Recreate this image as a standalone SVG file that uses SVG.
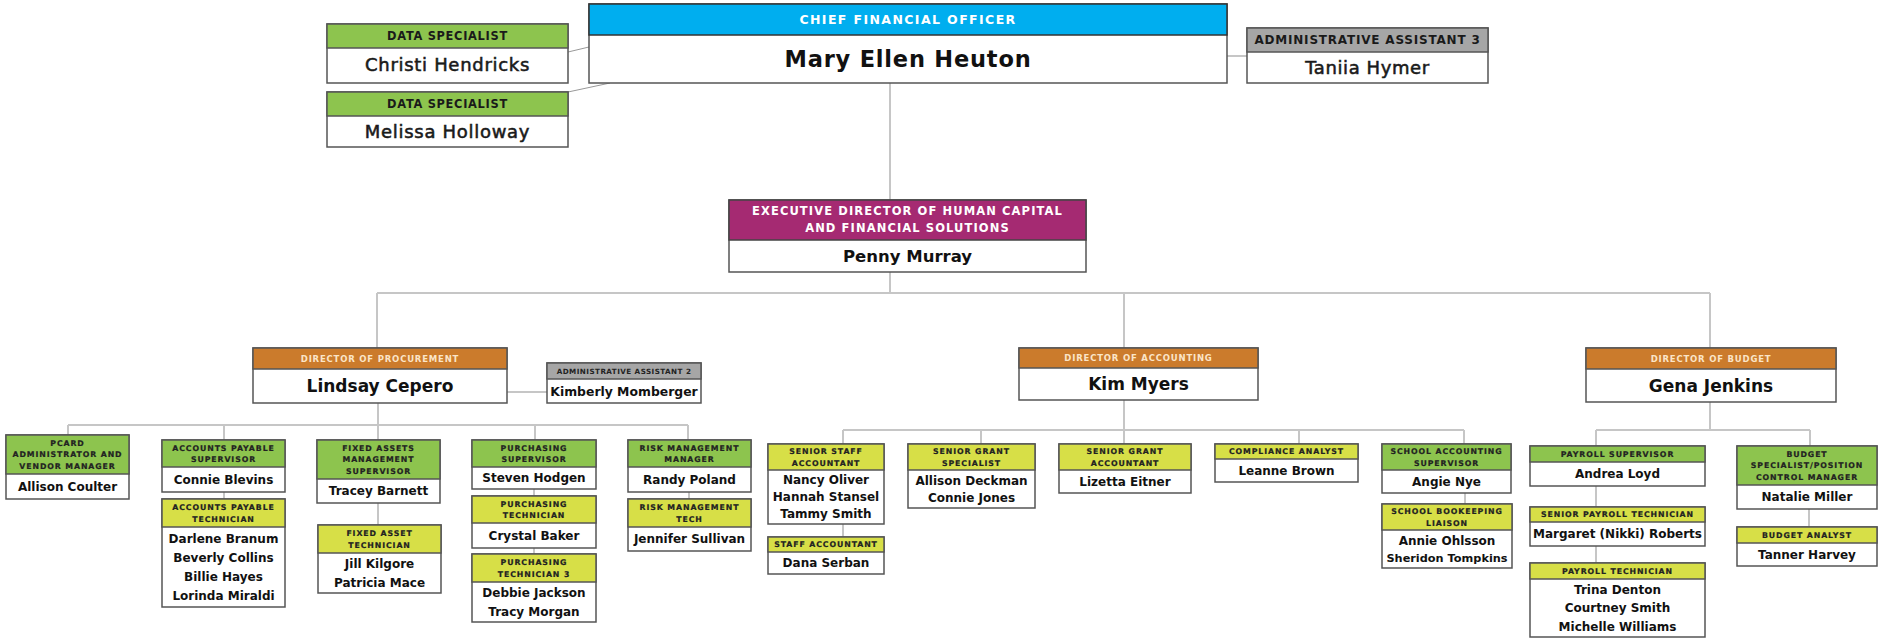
<svg xmlns="http://www.w3.org/2000/svg" width="1879" height="638" viewBox="0 0 1879 638">
<style>
text{font-family:"DejaVu Sans","Liberation Sans",sans-serif;text-anchor:middle}
.bx{fill:#fff;stroke:#555;stroke-width:1.5}
.bl{fill:#00AEEF;stroke:#333;stroke-width:1.5}
.gn{fill:#8DC44E;stroke:#555;stroke-width:1.5}
.yl{fill:#D7DF47;stroke:#555;stroke-width:1.5}
.gy{fill:#A6A6A6;stroke:#555;stroke-width:1.5}
.or{fill:#CB7B2C;stroke:#555;stroke-width:1.5}
.mg{fill:#A52A72;stroke:#444;stroke-width:1.5}
.s{font-size:7.8px;font-weight:bold;letter-spacing:0.9px;fill:#222;stroke:#222;stroke-width:0.2}
.n{font-size:12px;font-weight:bold;fill:#111}
.dh{font-size:8.5px;font-weight:bold;letter-spacing:0.8px;fill:#FBE5C8}
.dn{font-size:17px;font-weight:bold;fill:#111}
.th{font-size:11.4px;font-weight:bold;letter-spacing:0.7px;fill:#1a1a1a}
.tn{font-size:18px;letter-spacing:0.7px;fill:#1a1a1a;stroke:#1a1a1a;stroke-width:0.55}
.conn line,.conn path{stroke:#C6C6C6;stroke-width:2;fill:none}
</style>
<g id="connectors" class="conn">
<path d="M568,52 L589,47" style="stroke:#999;stroke-width:1"/>
<path d="M568,92 L610,83" style="stroke:#999;stroke-width:1"/>
<path d="M1227,56 H1247"/>
<path d="M890,83 V200"/>
<path d="M890,272 V293"/>
<path d="M377,293 H1710"/>
<path d="M377,293 V348"/>
<path d="M1124,293 V348"/>
<path d="M1710,293 V348"/>
<path d="M507,392 H547"/>
<path d="M378,403 V425"/>
<path d="M68,425 H688"/>
<path d="M68,425 V435"/>
<path d="M224,425 V440"/>
<path d="M378,425 V440"/>
<path d="M535,425 V440"/>
<path d="M688,425 V440"/>
<path d="M224,492 V499"/>
<path d="M378,503 V525"/>
<path d="M534,489 V496"/>
<path d="M534,548 V554"/>
<path d="M689,492 V499"/>
<path d="M1124,400 V430"/>
<path d="M843,430 H1464"/>
<path d="M843,430 V444"/>
<path d="M981,430 V444"/>
<path d="M1124,430 V444"/>
<path d="M1299,430 V444"/>
<path d="M1464,430 V444"/>
<path d="M843,524 V537"/>
<path d="M1465,493 V504"/>
<path d="M1710,402 V430"/>
<path d="M1596,430 H1810"/>
<path d="M1596,430 V446"/>
<path d="M1810,430 V446"/>
<path d="M1596,486 V507"/>
<path d="M1596,546 V563"/>
<path d="M1809,509 V527"/>
</g>

<g id="cfo">
<rect class="bx" x="589" y="4" width="638" height="79"/>
<rect class="bl" x="589" y="4" width="638" height="31"/>
<text x="908" y="24" style="font-size:12.5px;font-weight:bold;letter-spacing:1.4px;fill:#fff">CHIEF FINANCIAL OFFICER</text>
<text x="908" y="67" style="font-size:22.5px;font-weight:bold;letter-spacing:0.8px;fill:#111">Mary Ellen Heuton</text>
</g>
<g id="data-specialist-1">
<rect class="bx" x="327" y="24" width="241" height="59"/>
<rect class="gn" x="327" y="24" width="241" height="24"/>
<text class="th" x="447.5" y="40">DATA SPECIALIST</text>
<text class="tn" x="447.5" y="71">Christi Hendricks</text>
</g>
<g id="data-specialist-2">
<rect class="bx" x="327" y="92" width="241" height="55"/>
<rect class="gn" x="327" y="92" width="241" height="24"/>
<text class="th" x="447.5" y="108">DATA SPECIALIST</text>
<text class="tn" x="447.5" y="137.5">Melissa Holloway</text>
</g>
<g id="admin-assistant-3">
<rect class="bx" x="1247" y="28" width="241" height="55"/>
<rect class="gy" x="1247" y="28" width="241" height="24"/>
<text x="1367.5" y="44.3" style="font-size:12px;font-weight:bold;letter-spacing:0.8px;fill:#1a1a1a">ADMINISTRATIVE ASSISTANT 3</text>
<text class="tn" x="1367.5" y="73.5" style="letter-spacing:0.6px">Taniia Hymer</text>
</g>
<g id="exec-director">
<rect class="bx" x="729" y="200" width="357" height="72"/>
<rect class="mg" x="729" y="200" width="357" height="40"/>
<text x="907.5" y="215" style="font-size:11.5px;font-weight:bold;letter-spacing:1.1px;fill:#fff">EXECUTIVE DIRECTOR OF HUMAN CAPITAL</text>
<text x="907.5" y="232" style="font-size:11.5px;font-weight:bold;letter-spacing:1.1px;fill:#fff">AND FINANCIAL SOLUTIONS</text>
<text x="907.5" y="262" style="font-size:16.5px;font-weight:bold;fill:#111">Penny Murray</text>
</g>

<g id="dir-procurement">
<rect class="bx" x="253" y="348" width="254" height="55"/>
<rect class="or" x="253" y="348" width="254" height="21"/>
<text class="dh" x="380" y="361.6">DIRECTOR OF PROCUREMENT</text>
<text class="dn" x="380" y="392">Lindsay Cepero</text>
</g>
<g id="admin-assistant-2">
<rect class="bx" x="547" y="363" width="154" height="40"/>
<rect class="gy" x="547" y="363" width="154" height="16"/>
<text x="624" y="373.8" style="font-size:7.2px;font-weight:bold;letter-spacing:0.45px;fill:#222">ADMINISTRATIVE ASSISTANT 2</text>
<text x="624" y="395.5" style="font-size:12.4px;font-weight:bold;fill:#111">Kimberly Momberger</text>
</g>
<g id="dir-accounting">
<rect class="bx" x="1019" y="348" width="239" height="52"/>
<rect class="or" x="1019" y="348" width="239" height="20"/>
<text class="dh" x="1138.5" y="361">DIRECTOR OF ACCOUNTING</text>
<text class="dn" x="1138.5" y="390">Kim Myers</text>
</g>
<g id="dir-budget">
<rect class="bx" x="1586" y="348" width="250" height="54"/>
<rect class="or" x="1586" y="348" width="250" height="21"/>
<text class="dh" x="1711" y="361.6">DIRECTOR OF BUDGET</text>
<text class="dn" x="1711" y="392">Gena Jenkins</text>
</g>

<g id="pcard-admin">
<rect class="bx" x="6" y="435" width="123" height="64"/>
<rect class="gn" x="6" y="435" width="123" height="39"/>
<text class="s" x="67.5" y="445.6">PCARD</text>
<text class="s" x="67.5" y="457.4">ADMINISTRATOR AND</text>
<text class="s" x="67.5" y="469.2">VENDOR MANAGER</text>
<text class="n" x="67.5" y="490.9">Allison Coulter</text>
</g>
<g id="ap-supervisor">
<rect class="bx" x="162" y="440" width="123" height="52"/>
<rect class="gn" x="162" y="440" width="123" height="27"/>
<text class="s" x="223.5" y="450.5">ACCOUNTS PAYABLE</text>
<text class="s" x="223.5" y="462.3">SUPERVISOR</text>
<text class="n" x="223.5" y="483.9">Connie Blevins</text>
</g>
<g id="ap-technician">
<rect class="bx" x="162" y="499" width="123" height="108"/>
<rect class="yl" x="162" y="499" width="123" height="28"/>
<text class="s" x="223.5" y="510">ACCOUNTS PAYABLE</text>
<text class="s" x="223.5" y="521.8">TECHNICIAN</text>
<text class="n" x="223.5" y="543.4">Darlene Branum</text>
<text class="n" x="223.5" y="562.1">Beverly Collins</text>
<text class="n" x="223.5" y="580.8">Billie Hayes</text>
<text class="n" x="223.5" y="599.5">Lorinda Miraldi</text>
</g>
<g id="fixed-assets-supervisor">
<rect class="bx" x="317" y="440" width="123" height="63"/>
<rect class="gn" x="317" y="440" width="123" height="39"/>
<text class="s" x="378.5" y="450.6">FIXED ASSETS</text>
<text class="s" x="378.5" y="462.4">MANAGEMENT</text>
<text class="s" x="378.5" y="474.2">SUPERVISOR</text>
<text class="n" x="378.5" y="495.4">Tracey Barnett</text>
</g>
<g id="fixed-asset-technician">
<rect class="bx" x="318" y="525" width="123" height="68"/>
<rect class="yl" x="318" y="525" width="123" height="28"/>
<text class="s" x="379.5" y="536">FIXED ASSET</text>
<text class="s" x="379.5" y="547.8">TECHNICIAN</text>
<text class="n" x="379.5" y="567.9">Jill Kilgore</text>
<text class="n" x="379.5" y="586.9">Patricia Mace</text>
</g>
<g id="purchasing-supervisor">
<rect class="bx" x="472" y="440" width="124" height="49"/>
<rect class="gn" x="472" y="440" width="124" height="27"/>
<text class="s" x="534" y="450.5">PURCHASING</text>
<text class="s" x="534" y="462.3">SUPERVISOR</text>
<text class="n" x="534" y="482.4">Steven Hodgen</text>
</g>
<g id="purchasing-technician">
<rect class="bx" x="472" y="496" width="124" height="52"/>
<rect class="yl" x="472" y="496" width="124" height="27"/>
<text class="s" x="534" y="506.5">PURCHASING</text>
<text class="s" x="534" y="518.3">TECHNICIAN</text>
<text class="n" x="534" y="539.9">Crystal Baker</text>
</g>
<g id="purchasing-technician-3">
<rect class="bx" x="472" y="554" width="124" height="68"/>
<rect class="yl" x="472" y="554" width="124" height="28"/>
<text class="s" x="534" y="565">PURCHASING</text>
<text class="s" x="534" y="576.8">TECHNICIAN 3</text>
<text class="n" x="534" y="597.2">Debbie Jackson</text>
<text class="n" x="534" y="615.7">Tracy Morgan</text>
</g>
<g id="risk-manager">
<rect class="bx" x="628" y="440" width="123" height="52"/>
<rect class="gn" x="628" y="440" width="123" height="27"/>
<text class="s" x="689.5" y="450.5">RISK MANAGEMENT</text>
<text class="s" x="689.5" y="462.3">MANAGER</text>
<text class="n" x="689.5" y="483.9">Randy Poland</text>
</g>
<g id="risk-tech">
<rect class="bx" x="628" y="499" width="123" height="52"/>
<rect class="yl" x="628" y="499" width="123" height="28"/>
<text class="s" x="689.5" y="510">RISK MANAGEMENT</text>
<text class="s" x="689.5" y="521.8">TECH</text>
<text class="n" x="689.5" y="543.4">Jennifer Sullivan</text>
</g>

<g id="senior-staff-accountant">
<rect class="bx" x="768" y="444" width="116" height="80"/>
<rect class="yl" x="768" y="444" width="116" height="26"/>
<text class="s" x="826" y="454">SENIOR STAFF</text>
<text class="s" x="826" y="465.8">ACCOUNTANT</text>
<text class="n" x="826" y="484.4">Nancy Oliver</text>
<text class="n" x="826" y="501.4">Hannah Stansel</text>
<text class="n" x="826" y="518.4">Tammy Smith</text>
</g>
<g id="staff-accountant">
<rect class="bx" x="768" y="537" width="116" height="37"/>
<rect class="yl" x="768" y="537" width="116" height="15"/>
<text class="s" x="826" y="547.4">STAFF ACCOUNTANT</text>
<text class="n" x="826" y="567.4">Dana Serban</text>
</g>
<g id="senior-grant-specialist">
<rect class="bx" x="908" y="444" width="127" height="64"/>
<rect class="yl" x="908" y="444" width="127" height="26"/>
<text class="s" x="971.5" y="454">SENIOR GRANT</text>
<text class="s" x="971.5" y="465.8">SPECIALIST</text>
<text class="n" x="971.5" y="484.9">Allison Deckman</text>
<text class="n" x="971.5" y="501.9">Connie Jones</text>
</g>
<g id="senior-grant-accountant">
<rect class="bx" x="1059" y="444" width="132" height="49"/>
<rect class="yl" x="1059" y="444" width="132" height="26"/>
<text class="s" x="1125" y="454">SENIOR GRANT</text>
<text class="s" x="1125" y="465.8">ACCOUNTANT</text>
<text class="n" x="1125" y="485.9">Lizetta Eitner</text>
</g>
<g id="compliance-analyst">
<rect class="bx" x="1215" y="444" width="143" height="38"/>
<rect class="yl" x="1215" y="444" width="143" height="15"/>
<text class="s" x="1286.5" y="454.4">COMPLIANCE ANALYST</text>
<text class="n" x="1286.5" y="474.9">Leanne Brown</text>
</g>
<g id="school-accounting-supervisor">
<rect class="bx" x="1382" y="444" width="129" height="49"/>
<rect class="gn" x="1382" y="444" width="129" height="26"/>
<text class="s" x="1446.5" y="454">SCHOOL ACCOUNTING</text>
<text class="s" x="1446.5" y="465.8">SUPERVISOR</text>
<text class="n" x="1446.5" y="485.9">Angie Nye</text>
</g>
<g id="school-bookkeeping-liaison">
<rect class="bx" x="1382" y="504" width="130" height="64"/>
<rect class="yl" x="1382" y="504" width="130" height="26"/>
<text class="s" x="1447" y="514">SCHOOL BOOKEEPING</text>
<text class="s" x="1447" y="525.8">LIAISON</text>
<text class="n" x="1447" y="544.9">Annie Ohlsson</text>
<text class="n" x="1447" y="561.9" style="font-size:11.3px">Sheridon Tompkins</text>
</g>

<g id="payroll-supervisor">
<rect class="bx" x="1530" y="446" width="175" height="40"/>
<rect class="gn" x="1530" y="446" width="175" height="16"/>
<text class="s" x="1617.5" y="456.9">PAYROLL SUPERVISOR</text>
<text class="n" x="1617.5" y="478.4">Andrea Loyd</text>
</g>
<g id="senior-payroll-technician">
<rect class="bx" x="1530" y="507" width="175" height="39"/>
<rect class="yl" x="1530" y="507" width="175" height="15"/>
<text class="s" x="1617.5" y="517.4">SENIOR PAYROLL TECHNICIAN</text>
<text class="n" x="1617.5" y="538.4">Margaret (Nikki) Roberts</text>
</g>
<g id="payroll-technician">
<rect class="bx" x="1530" y="563" width="175" height="74"/>
<rect class="yl" x="1530" y="563" width="175" height="16"/>
<text class="s" x="1617.5" y="573.9">PAYROLL TECHNICIAN</text>
<text class="n" x="1617.5" y="593.9">Trina Denton</text>
<text class="n" x="1617.5" y="612.4">Courtney Smith</text>
<text class="n" x="1617.5" y="630.9">Michelle Williams</text>
</g>
<g id="budget-specialist">
<rect class="bx" x="1737" y="446" width="140" height="63"/>
<rect class="gn" x="1737" y="446" width="140" height="39"/>
<text class="s" x="1807" y="456.6">BUDGET</text>
<text class="s" x="1807" y="468.4">SPECIALIST/POSITION</text>
<text class="s" x="1807" y="480.2">CONTROL MANAGER</text>
<text class="n" x="1807" y="501.4">Natalie Miller</text>
</g>
<g id="budget-analyst">
<rect class="bx" x="1737" y="527" width="140" height="39"/>
<rect class="yl" x="1737" y="527" width="140" height="16"/>
<text class="s" x="1807" y="537.9">BUDGET ANALYST</text>
<text class="n" x="1807" y="558.9">Tanner Harvey</text>
</g>
</svg>
